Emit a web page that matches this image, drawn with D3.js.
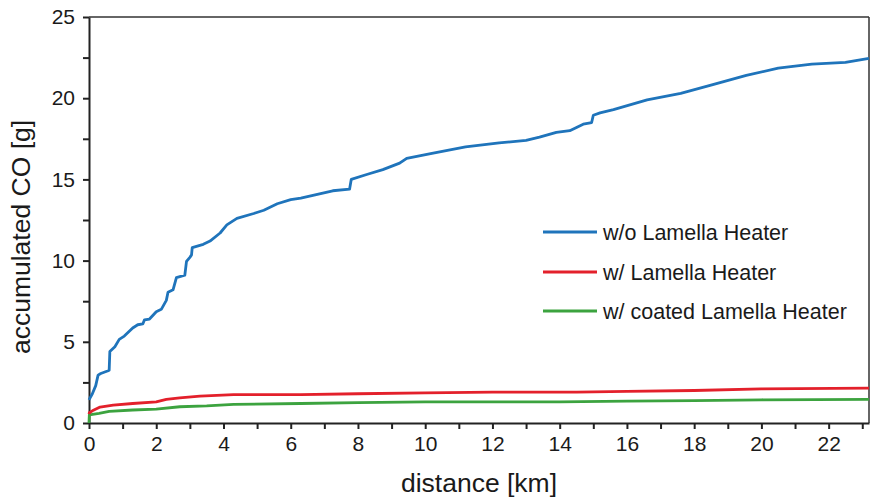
<!DOCTYPE html>
<html><head><meta charset="utf-8">
<script src="https://cdn.jsdelivr.net/npm/d3@7"></script>
<style>
html,body{margin:0;padding:0;background:#fff;}
text{font-family:"Liberation Sans",Arial,sans-serif;fill:#1a1a1a;}
</style></head>
<body><svg id="c" width="871" height="500"></svg>
<script>
const xTicks = [0,2,4,6,8,10,12,14,16,18,20,22];
const yTicks = [0,5,10,15,20,25];
const seriesNames = ["w/o Lamella Heater","w/ Lamella Heater","w/ coated Lamella Heater"];
const seriesColors = ["#1f74bb","#e3202b","#3ca33f"];

const blueDist = [0,0.1,0.2,0.27,0.35,0.55,0.6,0.62,0.77,0.9,1.05,1.3,1.45,1.6,1.65,1.8,2.0,2.15,2.3,2.35,2.5,2.6,2.85,2.9,3.0,3.05,3.07,3.4,3.6,3.9,4.1,4.4,4.9,5.2,5.6,6.0,6.3,7.25,7.75,7.8,8.26,8.74,9.24,9.45,10.2,11.2,12.2,13.0,13.4,13.9,14.3,14.5,14.7,14.95,15.0,15.2,15.6,16.6,17.6,18.5,19.55,20.5,21.5,22.5,23.2];
const blueCO   = [1.42,1.8,2.3,2.95,3.05,3.2,3.25,4.4,4.7,5.15,5.35,5.85,6.05,6.1,6.35,6.4,6.85,7.0,7.55,8.05,8.2,8.95,9.1,9.95,10.2,10.35,10.8,11.0,11.2,11.7,12.2,12.6,12.9,13.1,13.5,13.75,13.85,14.3,14.4,15.0,15.3,15.6,16.0,16.3,16.6,17.0,17.25,17.4,17.6,17.9,18.0,18.2,18.4,18.5,18.95,19.1,19.3,19.9,20.3,20.8,21.4,21.85,22.1,22.2,22.45];

const redDist = [0,0.01,0.1,0.33,0.72,1.3,2.0,2.3,2.7,3.3,4.3,6.3,8,10,12,14.5,16,18,20,23.2];
const redCO   = [0.55,0.63,0.75,0.98,1.1,1.2,1.3,1.45,1.55,1.65,1.75,1.75,1.8,1.85,1.9,1.9,1.95,2.0,2.1,2.15];

const greenDist = [0,0.01,0.3,0.6,1.3,2.0,2.7,3.5,4.3,6.3,8,10,14,16,18,20,23.2];
const greenCO   = [0.0,0.5,0.6,0.72,0.8,0.85,1.0,1.05,1.15,1.2,1.25,1.3,1.3,1.35,1.38,1.43,1.45];

const series = [
  {dist: blueDist, co: blueCO},
  {dist: redDist, co: redCO},
  {dist: greenDist, co: greenCO}
];

const svg = d3.select("#c");
const L = 89, R = 869, T = 17, B = 423;
const x = d3.scaleLinear().domain([0,23.2]).range([L,R]);
const y = d3.scaleLinear().domain([0,25]).range([B,T]);

// frame top/right
svg.append("line").attr("x1",L).attr("x2",R).attr("y1",T).attr("y2",T).attr("stroke","#333").attr("stroke-width",1.5);
svg.append("line").attr("x1",R).attr("x2",R).attr("y1",T).attr("y2",B).attr("stroke","#333").attr("stroke-width",1.5);

// x axis
const xMinor = d3.range(1,24,2);
const xa = svg.append("g").attr("transform",`translate(0,${B})`)
  .call(d3.axisBottom(x).tickValues(d3.range(0,24,1)).tickSize(6).tickSizeOuter(0)
    .tickFormat(d => xTicks.includes(d) ? d : ""));
xa.select(".domain").attr("stroke","#222").attr("stroke-width",2);
xa.selectAll(".tick line").attr("stroke","#222").attr("stroke-width",2);
xa.selectAll(".tick text").attr("font-size",21).attr("dy","0.95em").attr("y",8);

// y axis
const ya = svg.append("g").attr("transform",`translate(${L},0)`)
  .call(d3.axisLeft(y).tickValues(d3.range(0,25.1,2.5)).tickSize(6).tickSizeOuter(0)
    .tickFormat(d => yTicks.includes(d) ? d : ""));
ya.select(".domain").attr("stroke","#222").attr("stroke-width",2);
ya.selectAll(".tick line").attr("stroke","#222").attr("stroke-width",2);
ya.selectAll(".tick text").attr("font-size",21).attr("x",-14);

// lines
const line = d3.line().x(d=>x(d[0])).y(d=>y(d[1]));
series.slice().reverse().forEach((s,i) => {
  const idx = series.length-1-i;
  const pts = s.dist.map((d,j)=>[d,s.co[j]]);
  svg.append("path").attr("d",line(pts)).attr("fill","none")
    .attr("stroke",seriesColors[idx]).attr("stroke-width",2.8).attr("stroke-linejoin","round");
});

// legend
const legY = [232,272,311];
seriesNames.forEach((n,i)=>{
  svg.append("line").attr("x1",543).attr("x2",597).attr("y1",legY[i]).attr("y2",legY[i])
    .attr("stroke",seriesColors[i]).attr("stroke-width",2.8);
  svg.append("text").attr("x",603).attr("y",legY[i]).attr("dy","0.35em").attr("font-size",21.5).text(n);
});

// titles
svg.append("text").attr("x",(L+R)/2).attr("y",492).attr("text-anchor","middle").attr("font-size",26.5).text("distance [km]");
svg.append("text").attr("transform","translate(30,237) rotate(-90)").attr("text-anchor","middle").attr("font-size",26.5).text("accumulated CO [g]");
</script></body></html>
